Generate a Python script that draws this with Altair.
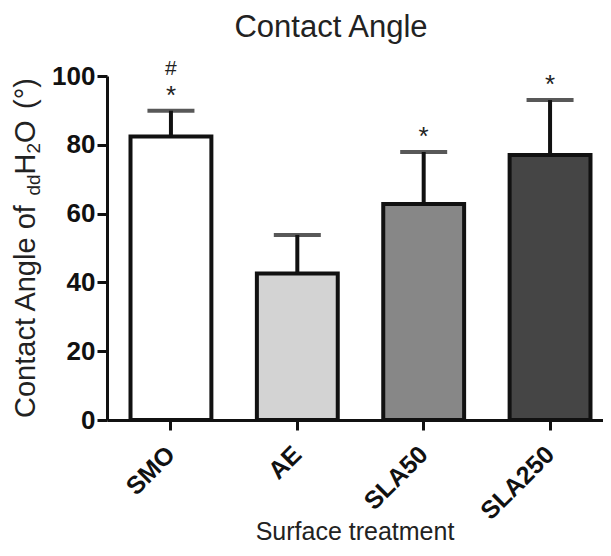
import altair as alt
import pandas as pd

categories = ["SMO", "AE", "SLA50", "SLA250"]
means = [82.4, 42.6, 62.8, 77.0]
upper = [89.9, 53.8, 77.9, 93.0]
colors = ["#ffffff", "#d3d3d3", "#878787", "#454545"]
marks_star = ["*", "", "*", "*"]
marks_hash = ["#", "", "", ""]
y_ticks = [0, 20, 40, 60, 80, 100]

df = pd.DataFrame({"cat": categories, "mean": means, "upper": upper,
                   "color": colors, "star": marks_star, "hash": marks_hash})
one = pd.DataFrame({"a": [0]})

FONT = "Liberation Sans"
INK = "#111111"
TXT = "#222222"
W, H = 507, 344

xs = alt.X("cat:N", sort=categories, title=None,
           scale=alt.Scale(paddingInner=0.36, paddingOuter=0.186),
           axis=alt.Axis(labelAngle=-45, labelFontWeight="bold", labelFontSize=25,
                         labelFont=FONT, labelColor=INK, labelAlign="right",
                         labelBaseline="middle", labelPadding=20,
                         tickSize=10, tickWidth=3, tickColor=INK,
                         domainWidth=3, domainColor=INK))
y_scale = alt.Scale(domain=[0, 100], nice=False)

bars = alt.Chart(df).mark_bar(stroke=INK, strokeWidth=4).encode(
    x=xs,
    y=alt.Y("mean:Q", scale=y_scale, title=None,
            axis=alt.Axis(values=y_ticks, labelFontWeight="bold",
                          labelFontSize=26, labelFont=FONT, labelColor=INK,
                          tickSize=10, tickWidth=3, tickColor=INK,
                          domainWidth=3, domainColor=INK, grid=False,
                          labelPadding=2)),
    fill=alt.Fill("color:N", scale=None),
)

xc = alt.X("cat:N", sort=categories)
stems = alt.Chart(df).mark_rule(color=INK, strokeWidth=4).encode(
    x=xc, y=alt.Y("mean:Q", scale=y_scale), y2="upper:Q")

caps = alt.Chart(df).mark_tick(color=INK, thickness=4, size=47).encode(
    x=xc, y=alt.Y("upper:Q", scale=y_scale))

stars = alt.Chart(df).mark_text(fontSize=26, font=FONT, color=TXT,
                                baseline="alphabetic", dy=-7).encode(
    x=xc, y=alt.Y("upper:Q", scale=y_scale), text="star:N")

hashes = alt.Chart(df).mark_text(fontSize=21, font=FONT, color=TXT,
                                 baseline="alphabetic", dy=-36).encode(
    x=xc, y=alt.Y("upper:Q", scale=y_scale), text="hash:N")


def label(text, x, y, size, angle=0, align="center", weight="normal"):
    return alt.Chart(one).mark_text(
        text=text, font=FONT, fontSize=size, color=TXT, angle=angle,
        align=align, baseline="alphabetic", fontWeight=weight,
    ).encode(x=alt.value(x), y=alt.value(y))


# main title and axis titles (y title has subscripts)
title = label("Contact Angle", 224, -39, 31)
xtitle = label("Surface treatment", 248, 464, 25)
yt = [
    label("Contact Angle of ", -72, 342, 29, angle=270, align="left"),
    label("dd", -67, 119.5, 19, angle=270, align="left"),
    label("H", -72, 98.4, 29, angle=270, align="left"),
    label("2", -67, 77.5, 19, angle=270, align="left"),
    label("O", -72, 66.9, 29, angle=270, align="left"),
    label("(°)", -72, 33, 29, angle=270, align="left"),
]

chart = alt.layer(bars, stems, caps, stars, hashes, title, xtitle, *yt).properties(
    width=W, height=H,
    autosize=alt.AutoSizeParams(type="none"),
    padding={"left": 99, "top": 68, "right": -11, "bottom": 128},
).configure_view(stroke=None)

chart.save("out.html", embed_options={"renderer": "svg", "actions": False})
